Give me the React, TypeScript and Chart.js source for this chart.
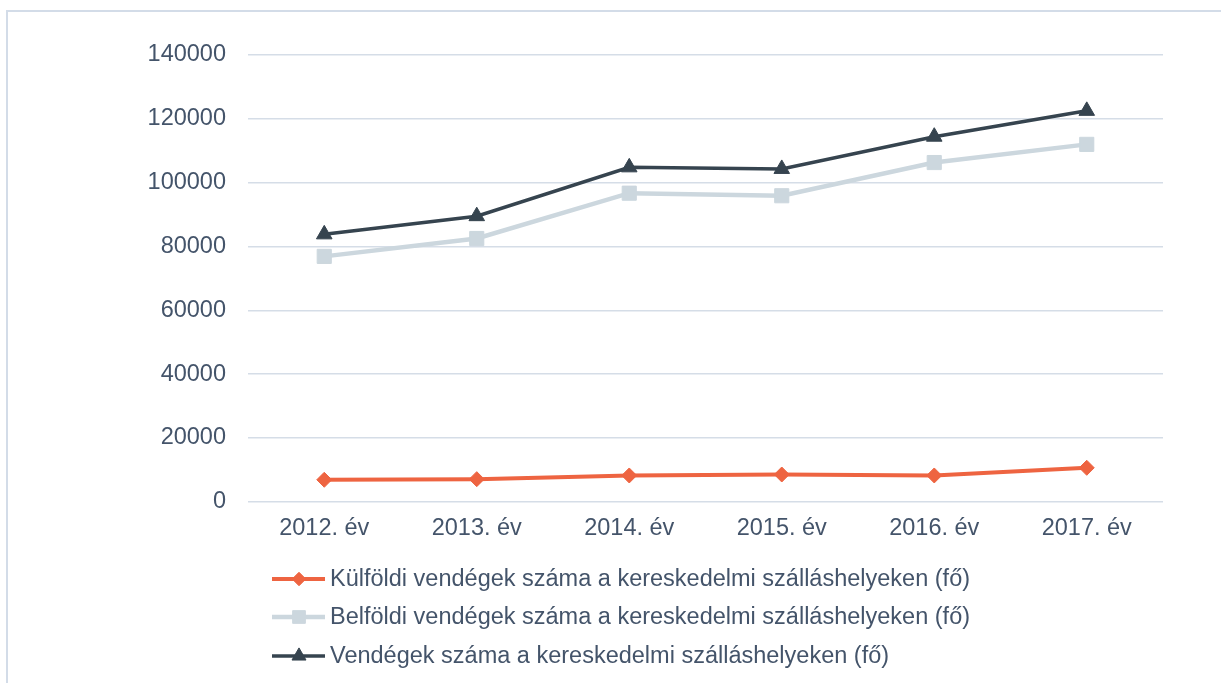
import React, { useEffect, useRef } from "react";
import { Chart, registerables } from "chart.js";
import { drawPoint } from "chart.js/helpers";

Chart.register(...registerables);

const categories = ["2012. év", "2013. év", "2014. év", "2015. év", "2016. év", "2017. év"];
const kulfoldi = [6900, 7100, 8250, 8550, 8250, 10650];
const belfoldi = [76900, 82500, 96700, 95900, 106300, 112000];
const osszes = [83800, 89500, 104800, 104300, 114400, 122500];
const seriesNames = [
  "Külföldi vendégek száma a kereskedelmi szálláshelyeken (fő)",
  "Belföldi vendégek száma a kereskedelmi szálláshelyeken (fő)",
  "Vendégek száma a kereskedelmi szálláshelyeken (fő)",
];
const yTicks = [0, 20000, 40000, 60000, 80000, 100000, 120000, 140000];

const FONT = "'Liberation Sans', Arial, sans-serif";
const TEXT = "#44546A";
const GRID = "#D5DDE7";

const legendPlugin = {
  id: "customLegend",
  afterDraw(chart: any) {
    const ctx = chart.ctx;
    const rows = [579, 617, 656];
    ctx.save();
    chart.data.datasets.forEach((ds: any, i: number) => {
      const y = rows[i];
      ctx.strokeStyle = ds.borderColor;
      ctx.lineWidth = ds.borderWidth;
      ctx.beginPath();
      ctx.moveTo(272, y);
      ctx.lineTo(325, y);
      ctx.stroke();
      ctx.fillStyle = ds.pointBackgroundColor;
      ctx.strokeStyle = ds.pointBackgroundColor;
      ctx.lineWidth = 1;
      drawPoint(ctx, { pointStyle: ds.pointStyle, radius: ds.pointRadius * 0.9, rotation: 0, borderWidth: 1 }, 299, y);
      ctx.fillStyle = TEXT;
      ctx.font = `23.5px ${FONT}`;
      ctx.textBaseline = "middle";
      ctx.textAlign = "left";
      ctx.fillText(ds.label, 330, y + 1);
    });
    ctx.restore();
  },
};

export default function App() {
  const ref = useRef<HTMLCanvasElement>(null);
  useEffect(() => {
    if (!ref.current) return;
    const mk = (label: string, data: number[], color: string, style: string, r: number, bw: number) => ({
      label,
      data,
      borderColor: color,
      backgroundColor: color,
      pointBackgroundColor: color,
      pointBorderColor: color,
      pointBorderWidth: 1,
      pointStyle: style,
      pointRadius: r,
      borderWidth: bw,
      tension: 0,
    });
    const chart = new Chart(ref.current, {
      type: "line",
      data: {
        labels: categories,
        datasets: [
          mk(seriesNames[0], kulfoldi, "#EE6441", "rectRot", 7.5, 4),
          mk(seriesNames[1], belfoldi, "#CCD7DE", "rect", 10, 4.5),
          mk(seriesNames[2], osszes, "#36444F", "triangle", 9, 3.5),
        ],
      },
      options: {
        animation: false,
        responsive: true,
        maintainAspectRatio: false,
        devicePixelRatio: 1,
        layout: { padding: { top: 55, right: 58, bottom: 127, left: 0 } },
        plugins: { legend: { display: false }, tooltip: { enabled: false } },
        scales: {
          x: {
            offset: true,
            grid: { display: false, drawTicks: false },
            border: { display: false },
            ticks: { color: TEXT, font: { size: 23.5, family: FONT }, padding: 13, maxRotation: 0 },
          },
          y: {
            min: 0,
            max: 140000,
            afterBuildTicks: (s: any) => {
              s.ticks = yTicks.map((v) => ({ value: v }));
            },
            afterFit: (s: any) => {
              s.width = 248;
            },
            grid: { color: GRID, lineWidth: 1.5, drawTicks: false },
            border: { display: false },
            ticks: {
              color: TEXT,
              font: { size: 23.5, family: FONT },
              padding: 22,
              callback: (v: any) => String(v),
            },
          },
        },
      },
      plugins: [legendPlugin],
    });
    return () => chart.destroy();
  }, []);
  return (
    <>
      <div
        style={{
          position: "absolute",
          left: 6,
          top: 10,
          width: 1215,
          height: 673,
          boxSizing: "border-box",
          borderLeft: "2px solid #D3DCE8",
          borderTop: "2px solid #D3DCE8",
        }}
      />
      <div style={{ position: "absolute", left: 0, top: 0, width: 1221, height: 683 }}>
        <canvas ref={ref} />
      </div>
    </>
  );
}
